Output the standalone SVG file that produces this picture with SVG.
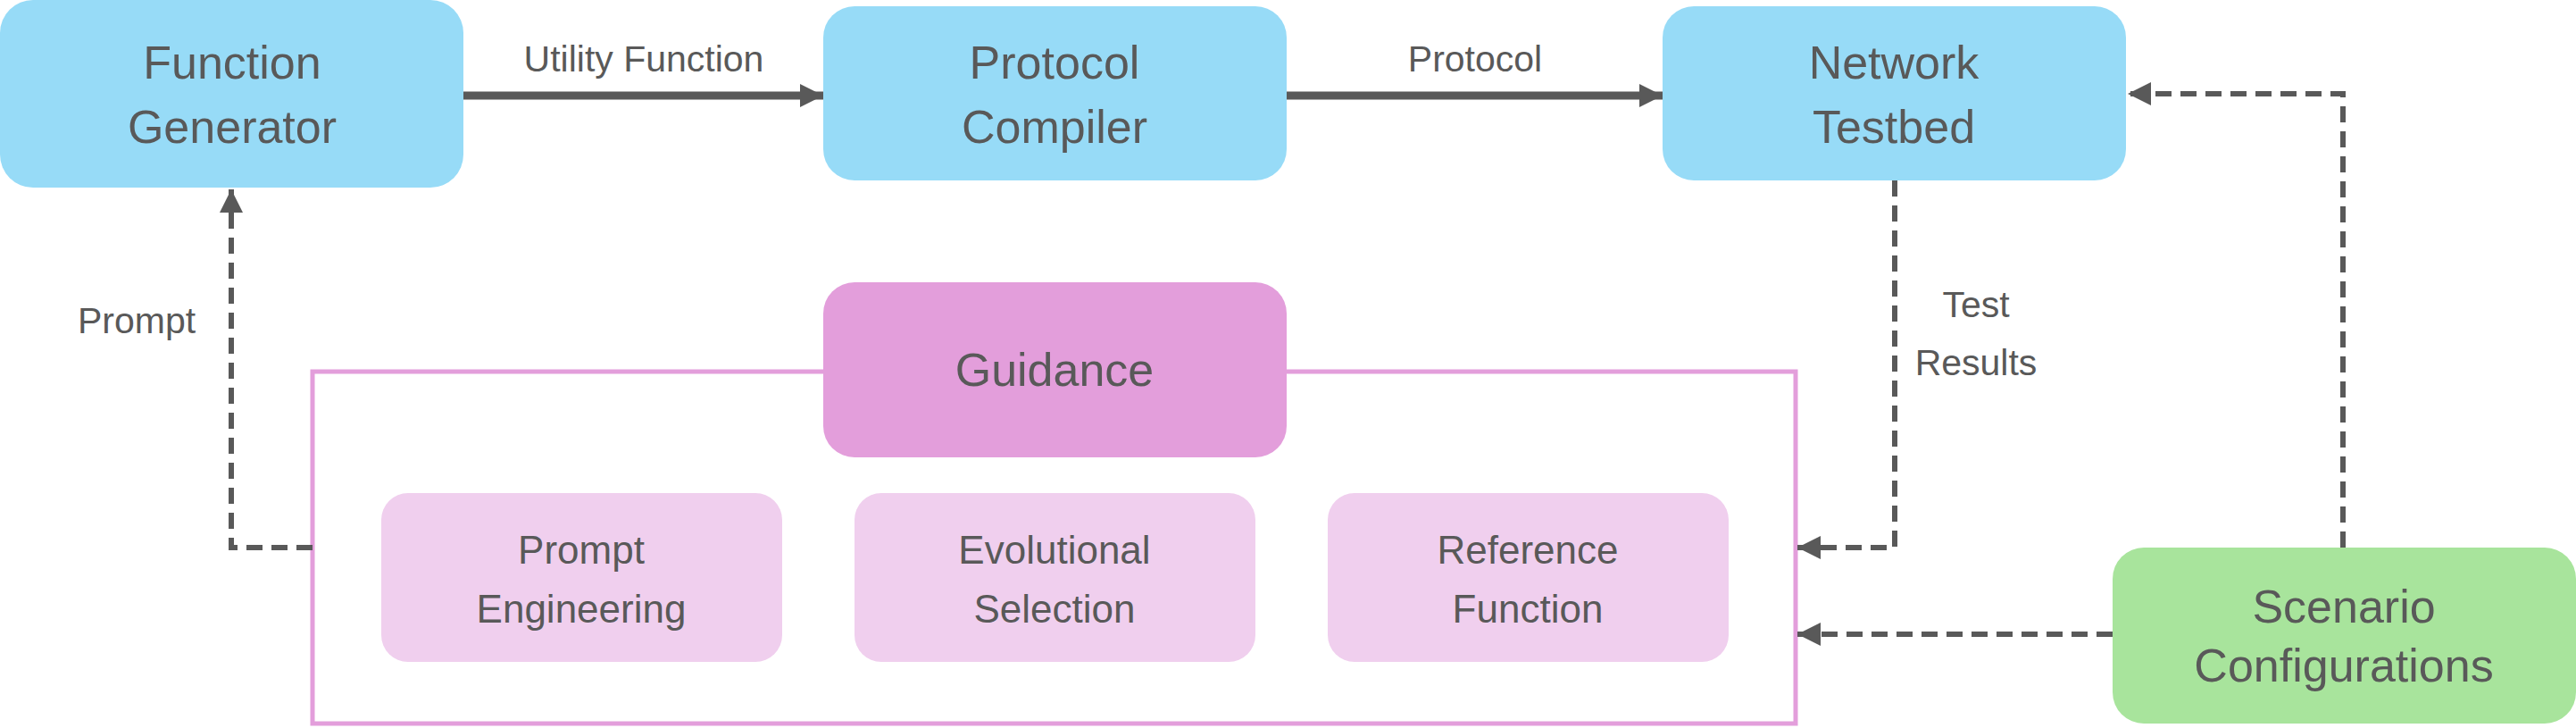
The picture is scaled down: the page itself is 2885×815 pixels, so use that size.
<svg xmlns="http://www.w3.org/2000/svg" width="2885" height="815" viewBox="0 0 2885 815">
<style>
text{font-family:"Liberation Sans",Arial,sans-serif;fill:#595959;text-anchor:middle}
.n{font-size:52px}.l{font-size:41px}.s{font-size:44px}
.blue{fill:#97DBF7}.pink{fill:#E39EDB}.lp{fill:#F0CFEE}.green{fill:#A8E49C}
.c{stroke:#595959;stroke-width:9;fill:none}
.d{stroke:#595959;stroke-width:6;fill:none;stroke-dasharray:18 10}
</style>
<defs>
<marker id="b" viewBox="0 0 10 10" refX="10" refY="5" markerWidth="30" markerHeight="26" markerUnits="userSpaceOnUse" orient="auto"><path d="M0,0L10,5L0,10z" fill="#595959"/></marker>
</defs>
<g id="guidance-frame"><rect x="350" y="416" width="1661" height="394" fill="none" stroke="#E39EDB" stroke-width="5"/></g>
<g id="function-generator"><rect class="blue" x="0" y="0" width="519" height="210" rx="37"/><text class="n" x="260" y="88">Function</text><text class="n" x="260" y="160">Generator</text></g>
<g id="protocol-compiler"><rect class="blue" x="922" y="7" width="519" height="195" rx="35"/><text class="n" x="1181" y="88">Protocol</text><text class="n" x="1181" y="160">Compiler</text></g>
<g id="network-testbed"><rect class="blue" x="1862" y="7" width="519" height="195" rx="35"/><text class="n" x="2121" y="88">Network</text><text class="n" x="2121" y="160">Testbed</text></g>
<g id="guidance"><rect class="pink" x="922" y="316" width="519" height="196" rx="35"/><text class="n" x="1181" y="432">Guidance</text></g>
<g id="prompt-engineering"><rect class="lp" x="427" y="552" width="449" height="189" rx="30"/><text class="s" x="651" y="631">Prompt</text><text class="s" x="651" y="697">Engineering</text></g>
<g id="evolutional-selection"><rect class="lp" x="957" y="552" width="449" height="189" rx="30"/><text class="s" x="1181" y="631">Evolutional</text><text class="s" x="1181" y="697">Selection</text></g>
<g id="reference-function"><rect class="lp" x="1487" y="552" width="449" height="189" rx="30"/><text class="s" x="1711" y="631">Reference</text><text class="s" x="1711" y="697">Function</text></g>
<g id="scenario-configurations"><rect class="green" x="2366" y="613" width="519" height="197" rx="35"/><text class="n" x="2625" y="697">Scenario</text><text class="n" x="2625" y="763">Configurations</text></g>
<g id="connectors">
<path class="c" d="M519,107H922" marker-end="url(#b)"/>
<path class="c" d="M1441,107H1862" marker-end="url(#b)"/>
<path class="d" d="M2122,202V613H2013" marker-end="url(#b)"/>
<path class="d" d="M2624,613V105H2383" marker-end="url(#b)"/>
<path class="d" d="M2366,710H2013" marker-end="url(#b)"/>
<path class="d" d="M350,613H259V212" marker-end="url(#b)"/>
<text class="l" x="721" y="80">Utility Function</text>
<text class="l" x="1652" y="80">Protocol</text>
<text class="l" x="2213" y="355">Test</text>
<text class="l" x="2213" y="420">Results</text>
<text class="l" x="153" y="373">Prompt</text>
</g>
</svg>
